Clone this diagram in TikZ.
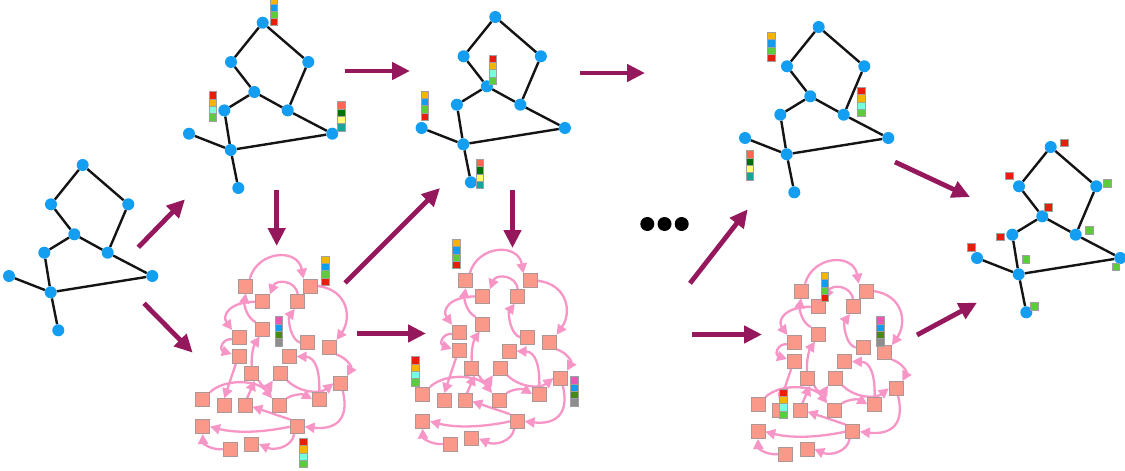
\documentclass[tikz,border=0pt]{standalone}
\usetikzlibrary{arrows.meta,backgrounds}

\definecolor{gblue}{RGB}{20,158,242}
\definecolor{arrowc}{RGB}{150,24,92}
\definecolor{pedgec}{RGB}{247,150,198}
\definecolor{sqfill}{RGB}{250,152,138}
\definecolor{sqedge}{RGB}{175,150,150}
\definecolor{barline}{RGB}{160,160,160}
\definecolor{cOr}{RGB}{245,180,0}
\definecolor{cBl}{RGB}{18,156,240}
\definecolor{cGr}{RGB}{92,204,58}
\definecolor{cRd}{RGB}{232,30,10}
\definecolor{cCy}{RGB}{122,255,222}
\definecolor{cSa}{RGB}{255,104,80}
\definecolor{cDg}{RGB}{0,112,0}
\definecolor{cYe}{RGB}{255,255,110}
\definecolor{cTe}{RGB}{18,166,156}
\definecolor{cPk}{RGB}{232,88,176}
\definecolor{cOl}{RGB}{72,138,16}
\definecolor{cGy}{RGB}{142,142,142}

\tikzset{
  gnode/.style={circle,fill=gblue,inner sep=0pt,minimum size=12pt},
  gedge/.style={line width=2.4pt,draw=black!92},
  sq/.style={rectangle,fill=sqfill,draw=sqedge,line width=0.5pt,inner sep=0pt,minimum size=14pt},
  pedge/.style={line width=2.3pt,draw=pedgec,-{Triangle[length=10pt,width=10pt]}},
  bigarrow/.style={line width=4.8pt,draw=arrowc,-{Triangle[length=18pt,width=17pt]}},
  tag/.style={rectangle,inner sep=0pt,minimum size=7.5pt,draw=barline,line width=0.4pt},
  dot/.style={circle,fill=black,inner sep=0pt,minimum size=14pt}
}

% vertical stack of four coloured cells, top-left corner at #1
\newcommand\colbar[5]{%
  \begin{scope}[shift={(#1)}]
    \foreach \c [count=\i from 0] in {#2,#3,#4,#5}
      \filldraw[fill=\c,draw=barline,line width=0.5pt] (0,{\i*7.3}) rectangle ++(7.5,7.3);
  \end{scope}}
\newcommand\barA[1]{\colbar{#1}{cOr}{cBl}{cGr}{cRd}}
\newcommand\barB[1]{\colbar{#1}{cRd}{cOr}{cCy}{cGr}}
\newcommand\barC[1]{\colbar{#1}{cSa}{cDg}{cYe}{cTe}}
\newcommand\barD[1]{\colbar{#1}{cPk}{cBl}{cOl}{cGy}}

% the small network, placed by its hub vertex
\newcommand\netgraph[2]{%
  \begin{scope}[shift={(#1)},name prefix=#2-]
    \node[gnode] (t)  at (32,-127.3) {};
    \node[gnode] (lu) at (0.3,-88) {};
    \node[gnode] (ru) at (77.6,-88) {};
    \node[gnode] (m)  at (23.6,-58) {};
    \node[gnode] (lm) at (-6.4,-39.6) {};
    \node[gnode] (rm) at (57,-39.6) {};
    \node[gnode] (fr) at (101.6,-16.3) {};
    \node[gnode] (fl) at (-41.7,-16.3) {};
    \node[gnode] (h)  at (0,0) {};
    \node[gnode] (b)  at (7.6,38) {};
    \begin{pgfonlayer}{background}
      \draw[gedge] (t)--(lu) (t)--(ru) (lu)--(m) (m)--(lm) (m)--(rm)
        (ru)--(rm) (rm)--(fr) (fr)--(h) (fl)--(h) (lm)--(h) (h)--(b);
    \end{pgfonlayer}
  \end{scope}}

% the message-passing cloud of square units
\newcommand\msgcloud[2]{%
  \begin{scope}[shift={(#1)},name prefix=#2-]
    \node[sq] (A) at (245.7,286) {};
    \node[sq] (B) at (310.7,286) {};
    \node[sq] (C) at (262.7,301.7) {};
    \node[sq] (D) at (297.7,301.7) {};
    \node[sq] (E) at (262.7,329.3) {};
    \node[sq] (F) at (239.3,337.3) {};
    \node[sq] (G) at (307.7,342.7) {};
    \node[sq] (H) at (329.3,347.3) {};
    \node[sq] (I) at (239,356) {};
    \node[sq] (J) at (289.3,356.5) {};
    \node[sq] (K) at (251.7,373.3) {};
    \node[sq] (L) at (280,373.3) {};
    \node[sq] (M) at (340.7,383.3) {};
    \node[sq] (N) at (202.7,399.5) {};
    \node[sq] (O) at (224.3,405.7) {};
    \node[sq] (P) at (245,405.7) {};
    \node[sq] (Q) at (279.3,405.7) {};
    \node[sq] (R) at (319.3,399.3) {};
    \node[sq] (S) at (202.7,426.7) {};
    \node[sq] (T) at (297.3,426.7) {};
    \node[sq] (U) at (251.7,444) {};
    \node[sq] (V) at (230,449.3) {};
    \begin{pgfonlayer}{background}
      \draw[pedge] ([xshift=4pt]A.north) .. controls (258,250) and (298,248) .. (B.north west);
      \draw[pedge] (B.east) .. controls (348,290) and (352,318) .. (H.north east);
      \draw[pedge] (H.south east) .. controls (347,358) and (352,367) .. ([xshift=-1pt]M.north east);
      \draw[pedge] (D.north) .. controls (296,280) and (276,279) .. (C.north east);
      \draw[pedge] (G.west) .. controls (290,340) and (288,318) .. ([xshift=-3pt]D.south);
      \draw[pedge] (C.west) .. controls (228,302) and (222,316) .. (F.north west);
      \draw[pedge] (E.north west) .. controls (247,318) and (244,305) .. (A.south);
      \draw[pedge] ([yshift=-2pt]F.west) .. controls (222,338) and (219,350) .. ([yshift=2pt]I.west);
      \draw[pedge] (R.north) .. controls (320,370) and (315,357) .. (J.east);
      \draw[pedge] (K.north) .. controls (251,355) and (254,345) .. ([xshift=-3pt]E.south);
      \draw[pedge] ([xshift=-3pt]I.south) -- (O.north);
      \draw[pedge] (N.north east) .. controls (225,378) and (258,380) .. (Q.north west);
      \draw[pedge] (K.south east) .. controls (262,388) and (268,388) .. (L.south west);
      \draw[pedge] ([xshift=2pt]P.north) -- ([xshift=3pt]K.south);
      \draw[pedge] (Q.north east) .. controls (293,394) and (303,394) .. (R.west);
      \draw[pedge] (L.south east) .. controls (300,393) and (320,394) .. (M.west);
      \draw[pedge] ([xshift=2pt]M.south) .. controls (350,420) and (335,430) .. (T.east);
      \draw[pedge] (T.north west) -- ([yshift=-1pt]P.east);
      \draw[pedge] (T.west) .. controls (260,433) and (235,433) .. (S.east);
      \draw[pedge] ([xshift=-3pt]T.south) .. controls (292,447) and (275,451) .. (U.east);
      \draw[pedge] (V.west) .. controls (210,450) and (203,443) .. (S.south);
    \end{pgfonlayer}
  \end{scope}}

\begin{document}
\begin{tikzpicture}[x=1pt,y=-1pt]
  \begin{pgfonlayer}{background}
    \fill[white] (0,0) rectangle (1125,471);
  \end{pgfonlayer}
  \useasboundingbox (0,0) rectangle (1125,471);

  % networks
  \netgraph{50.7,292.3}{g1}
  \netgraph{230.7,150}{g2}
  \netgraph{463.3,144.3}{g3}
  \netgraph{786.7,154.3}{g4}
  \netgraph{1018.7,274.3}{g5}

  % clouds of units
  \msgcloud{0,0}{c1}
  \msgcloud{220,-5.3}{c2}
  \msgcloud{555.3,5}{c3}

  % state bars on the networks
  \barA{270,-3.5}  \barB{209,91.7}  \barC{337.7,101.7}
  \barB{489,55}    \barA{421,91}    \barC{476,159.3}
  \barA{767.7,32.3} \barB{857.7,87.3} \barC{746,150.7}

  % state bars on the clouds
  \barA{321.7,256}  \barD{275,316.7}   \barB{299.3,438.3}
  \barA{452.3,239.3} \barB{411.7,356.7} \barD{570.7,376.7}
  \barA{821,272.3}  \barD{876.7,316.7} \barB{779.3,389}

  % final labels on the last network
  \node[tag,fill=cRd] (r1) at (1064,142.7) {};
  \node[tag,fill=cRd] (r2) at (1009,175.7) {};
  \node[tag,fill=cRd] (r3) at (1048.3,207.3) {};
  \node[tag,fill=cRd] (r4) at (1000,236.7) {};
  \node[tag,fill=cRd] (r5) at (971,247.3) {};
  \node[tag,fill=cGr] (q1) at (1107.3,183.3) {};
  \node[tag,fill=cGr] (q2) at (1089.3,230) {};
  \node[tag,fill=cGr] (q3) at (1025.7,259.3) {};
  \node[tag,fill=cGr] (q4) at (1115.7,266.7) {};
  \node[tag,fill=cGr] (q5) at (1034,306) {};

  % ellipsis
  \node[dot] (d1) at (647.3,224) {};
  \node[dot] (d2) at (664.5,224) {};
  \node[dot] (d3) at (681.7,224) {};

  % flow arrows
  \coordinate (a1s) at (138.3,247.3);  \coordinate (a1e) at (185,199.3);
  \coordinate (a2s) at (144,303.3);    \coordinate (a2e) at (192.7,352.7);
  \coordinate (a3s) at (345,71);       \coordinate (a3e) at (410,71);
  \coordinate (a4s) at (276.7,190);    \coordinate (a4e) at (276.7,246);
  \coordinate (a5s) at (345,283);      \coordinate (a5e) at (440,188);
  \coordinate (a6s) at (357,333.5);    \coordinate (a6e) at (426,333.5);
  \coordinate (a7s) at (512.5,190);    \coordinate (a7e) at (512.5,248);
  \coordinate (a8s) at (580,73);       \coordinate (a8e) at (645,73);
  \coordinate (a9s) at (690,283.3);    \coordinate (a9e) at (747.7,209.3);
  \coordinate (a10s) at (692,334.5);   \coordinate (a10e) at (762,334.5);
  \coordinate (a11s) at (895,162);     \coordinate (a11e) at (970,197);
  \coordinate (a12s) at (917,335);     \coordinate (a12e) at (977,302.7);
  \foreach \k in {1,...,12}
    \draw[bigarrow] (a\k s) -- (a\k e);
\end{tikzpicture}
\end{document}
